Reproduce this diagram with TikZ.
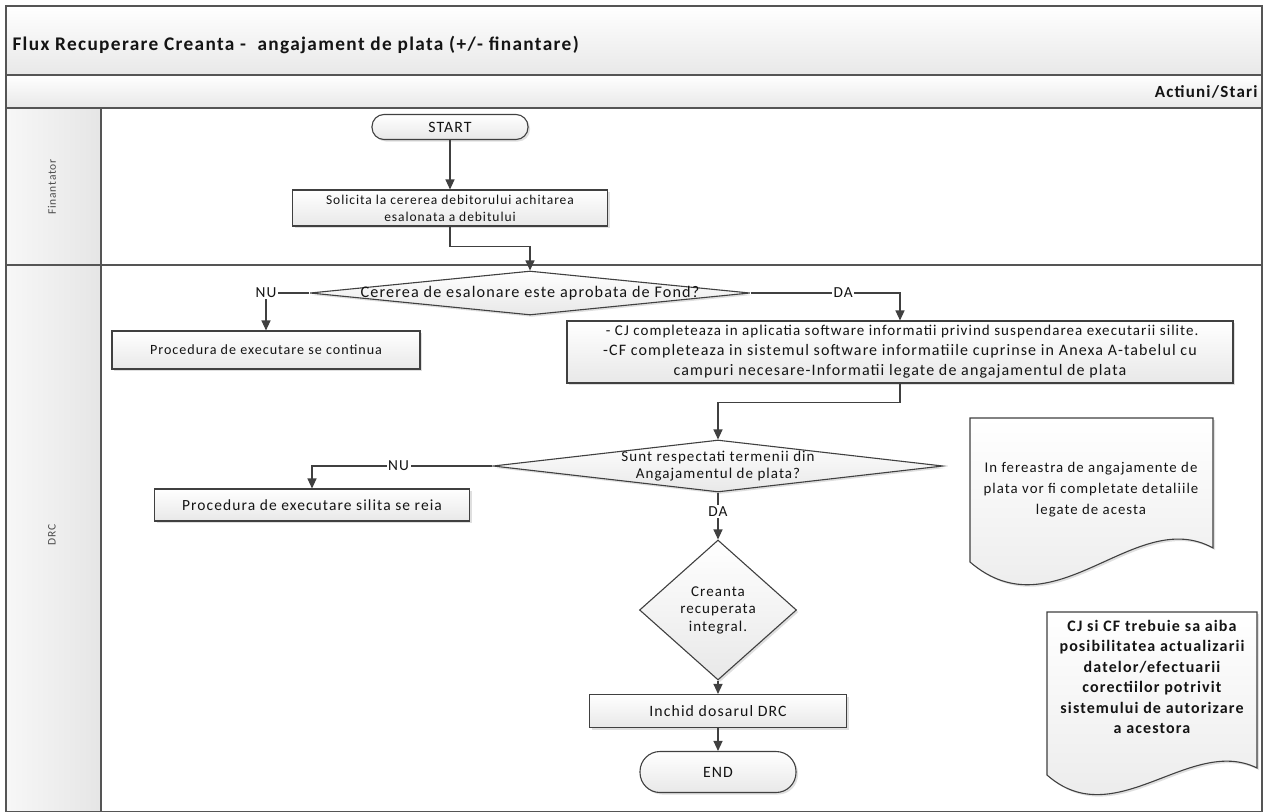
\documentclass[tikz,border=0pt]{standalone}
\usepackage{fontspec}
\setmainfont{Carlito}
\newfontfamily\wf[LetterSpace=7]{Carlito}
\newcommand\fsz[2]{\wf\fontsize{#1}{#2}\selectfont}
\usetikzlibrary{arrows.meta,shapes.geometric,shadows}
\definecolor{lineg}{HTML}{555555}
\definecolor{boxline}{HTML}{404040}
\definecolor{txt}{HTML}{141414}
\tikzset{
  band/.style={top color=white, bottom color=black!9, draw=lineg, line width=1.4pt},
  lanehead/.style={left color=black!3, right color=black!10, draw=lineg, line width=1.4pt},
  shd/.style={drop shadow={shadow xshift=2pt, shadow yshift=-2pt, opacity=0.25}},
  procbox/.style={rectangle, draw=boxline, line width=1.1pt, top color=white, bottom color=black!9,
    shd, align=center, text=txt, inner sep=2pt, font=\fsz{14}{17}},
  termbox/.style={procbox, rounded corners=12pt},
  decbox/.style={diamond, draw=boxline, line width=1.1pt, top color=white, bottom color=black!9,
    shd, inner sep=0pt},
  dectext/.style={align=center, text=txt, font=\fsz{15}{17}},
  arr/.style={draw=boxline, line width=1.2pt, -{Triangle[length=10pt,width=9pt]}},
  lbl/.style={fill=white, inner sep=1.5pt, text=txt, font=\fsz{15.3}{16}},
  docpath/.style={draw=boxline, line width=1.1pt, top color=white, bottom color=black!9, shd},
}
\begin{document}
\begin{tikzpicture}[x=1pt,y=-1pt]
\useasboundingbox (0,0) rectangle (1268,811);
% frame and bands
\path[band] (6,6) rectangle (1262,75);
\path[band] (6,75) rectangle (1262,108);
\draw[lineg, line width=1.4pt, fill=white] (101,108) rectangle (1262,265);
\draw[lineg, line width=1.4pt, fill=white] (101,265) rectangle (1262,812);
\path[lanehead] (6,108) rectangle (101,265);
\path[lanehead] (6,265) rectangle (101,812);
\node[anchor=west, text=txt, font=\fsz{19.3}{22}\bfseries] (title) at (9,45) {Flux Recuperare Creanta -\ \ angajament de plata (+/- finantare)};
\node[anchor=east, text=txt, font=\fsz{17}{20}\bfseries] (act) at (1261,92) {Actiuni/Stari};
\node[rotate=90, text=black!70, font=\fsz{11.5}{13}] (lane1) at (52,187) {Finantator};
\node[rotate=90, text=black!70, font=\fsz{11.5}{13}] (lane2) at (52,535) {DRC};

% nodes
\node[termbox, minimum width=156pt, minimum height=25pt, font=\fsz{15.8}{17}] (start) at (450,127) {START};
\node[procbox, minimum width=315pt, minimum height=36pt, font=\fsz{13.5}{17}] (sol) at (450,208) {Solicita la cererea debitorului achitarea\\esalonata a debitului};
\node[decbox, minimum width=440pt, minimum height=44pt] (d1) at (530,293) {};
\node[dectext, font=\fsz{16.2}{17}] at (d1.center) {Cererea de esalonare este aprobata de Fond?};
\node[procbox, minimum width=308pt, minimum height=38pt, font=\fsz{14.1}{17}] (p1) at (266,350) {Procedura de executare se continua};
\node[procbox, minimum width=666pt, minimum height=62pt, font=\fsz{16}{20}] (box2) at (900,352)
  {{\fsz{15}{19} - CJ completeaza in aplicatia software informatii privind suspendarea executarii silite.}\\
   -CF completeaza in sistemul software informatiile cuprinse in Anexa A-tabelul cu\\
   campuri necesare-Informatii legate de angajamentul de plata};
\node[decbox, minimum width=450pt, minimum height=52pt] (d2) at (718,466) {};
\node[dectext] at (d2.center) {Sunt respectati termenii din\\Angajamentul de plata?};
\node[procbox, minimum width=315pt, minimum height=32pt, font=\fsz{15.5}{17}] (p2) at (312,505) {Procedura de executare silita se reia};
\node[decbox, minimum width=157pt, minimum height=140pt] (d3) at (718,610) {};
\node[dectext, font=\fsz{15}{17.5}] at (d3.center) {Creanta\\recuperata\\integral.};
\node[procbox, minimum width=257pt, minimum height=33pt, font=\fsz{15.8}{17}] (inchid) at (718,711) {Inchid dosarul DRC};
\node[termbox, rounded corners=20pt, minimum width=156pt, minimum height=41pt, font=\fsz{15.8}{17}] (end) at (718,772) {END};

% documents
\path[docpath] (970,418) -- (1213,418) -- (1213,548) .. controls (1135,505) and (1055,635) .. (970,562) -- cycle;
\node[dectext, font=\fsz{14.8}{21}] (doc1) at (1091,490) {In fereastra de angajamente de\\plata vor fi completate detaliile\\legate de acesta};
\path[docpath] (1047,612) -- (1257,612) -- (1257,768) .. controls (1190,735) and (1115,835) .. (1047,775) -- cycle;
\node[dectext, font=\fsz{16}{20.5}\bfseries] (doc2) at (1152,677) {CJ si CF trebuie sa aiba\\posibilitatea actualizarii\\datelor/efectuarii\\corectiilor potrivit\\sistemului de autorizare\\a acestora};

% connectors
\draw[arr] (start) -- (sol);
\draw[arr] (sol.south) -- ++(0,20) -| (d1.north);
\draw[arr] (d1.west) -| node[lbl, pos=0.5] {NU} (p1.north);
\draw[arr] (d1.east) -| node[lbl, pos=0.31] {DA} (box2.north);
\draw[arr] (box2.south) -- ++(0,19) -| (d2.north);
\draw[arr] (d2.west) -| node[lbl, pos=0.26] {NU} (p2.north);
\draw[arr] (d2.south) -- node[lbl, pos=0.4] {DA} (d3.north);
\draw[arr] (d3.south) -- (inchid.north);
\draw[arr] (inchid.south) -- (end.north);
\end{tikzpicture}
\end{document}
